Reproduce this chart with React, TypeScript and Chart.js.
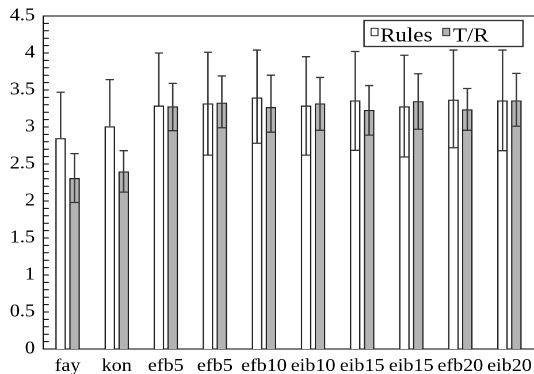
import React, { useEffect, useRef } from 'react';
import { Chart, registerables } from 'chart.js';

Chart.register(...registerables);

// ---- data ----
const categories = ['fay', 'kon', 'efb5', 'efb5', 'efb10', 'eib10', 'eib15', 'eib15', 'efb20', 'eib20'];
const seriesNames = ['Rules', 'T/R'];
const rulesValues = [2.85, 3.01, 3.29, 3.32, 3.40, 3.29, 3.36, 3.28, 3.37, 3.36];
const rulesErrUp = [0.62, 0.63, 0.71, 0.69, 0.64, 0.66, 0.66, 0.69, 0.67, 0.68];
const rulesErrDown = [0, 0, 0, 0.70, 0.62, 0.67, 0.675, 0.685, 0.65, 0.68];
const trValues = [2.31, 2.40, 3.28, 3.33, 3.27, 3.32, 3.23, 3.35, 3.24, 3.36];
const trErrUp = [0.33, 0.28, 0.31, 0.36, 0.43, 0.35, 0.33, 0.37, 0.28, 0.365];
const trErrDown = [0.33, 0.28, 0.33, 0.34, 0.34, 0.365, 0.34, 0.38, 0.285, 0.35];
const yTickLabels = ['0', '0.5', '1', '1.5', '2', '2.5', '3', '3.5', '4', '4.5'];
const yMin = 0;
const yMax = 4.5;
const yStep = 0.5;
const yMinorStep = 0.1;

// ---- style ----
const STRETCH = 534 / 464;
const FONT = 'Liberation Serif';
const EDGE = '#222';
const GRAY = '#b3b3b3';

Chart.defaults.font.family = FONT;

const errors = [
  { up: rulesErrUp, down: rulesErrDown },
  { up: trErrUp, down: trErrDown },
];

const extrasPlugin = {
  id: 'extras',
  afterDatasetsDraw(chart: any) {
    const ctx = chart.ctx;
    const y = chart.scales.y;
    const area = chart.chartArea;
    ctx.save();
    // error bars
    ctx.strokeStyle = '#383838';
    ctx.lineWidth = 1.3;
    chart.data.datasets.forEach((ds: any, di: number) => {
      const meta = chart.getDatasetMeta(di);
      meta.data.forEach((bar: any, i: number) => {
        const v = ds.data[i];
        const up = errors[di].up[i];
        const down = errors[di].down[i];
        const x = bar.x;
        const yTop = y.getPixelForValue(v + up);
        const yBot = y.getPixelForValue(v - down);
        const cap = 3.6;
        ctx.beginPath();
        ctx.moveTo(x, yTop);
        ctx.lineTo(x, yBot);
        ctx.moveTo(x - cap, yTop);
        ctx.lineTo(x + cap, yTop);
        if (down > 0) {
          ctx.moveTo(x - cap, yBot);
          ctx.lineTo(x + cap, yBot);
        }
        ctx.stroke();
      });
    });
    // top frame line
    ctx.strokeStyle = '#000';
    ctx.lineWidth = 1;
    ctx.beginPath();
    ctx.moveTo(area.left, area.top);
    ctx.lineTo(area.right, area.top);
    ctx.stroke();
    // minor ticks inside
    const n = Math.round((yMax - yMin) / yMinorStep);
    ctx.beginPath();
    for (let k = 0; k <= n; k++) {
      const py = y.getPixelForValue(yMin + k * yMinorStep);
      ctx.moveTo(area.left, py);
      ctx.lineTo(area.left + 5, py);
    }
    ctx.stroke();
    // legend
    const bx = 316.3, by = 20.5, bw = 138.1, bh = 26;
    ctx.fillStyle = '#fff';
    ctx.fillRect(bx, by, bw, bh);
    ctx.strokeStyle = '#333';
    ctx.lineWidth = 1.3;
    ctx.strokeRect(bx, by, bw, bh);
    ctx.font = `20px "${FONT}"`;
    ctx.textBaseline = 'alphabetic';
    ctx.textAlign = 'left';
    const items = [
      { sx: 322.4, tx: 330.2 },
      { sx: 384.7, tx: 393.5 },
    ];
    chart.data.datasets.forEach((ds: any, di: number) => {
      const it = items[di];
      ctx.fillStyle = ds.backgroundColor;
      ctx.fillRect(it.sx, 28.3, 6, 7.4);
      ctx.strokeStyle = EDGE;
      ctx.lineWidth = 0.9;
      ctx.strokeRect(it.sx, 28.3, 6, 7.4);
      ctx.fillStyle = '#000';
      ctx.fillText(ds.label, it.tx, 41.7);
    });
    ctx.restore();
  },
};

export default function App() {
  const ref = useRef<HTMLCanvasElement>(null);
  useEffect(() => {
    document.body.style.margin = '0';
    document.body.style.overflow = 'hidden';
    const tickFont = { family: `"${FONT}"`, size: 17.5 };
    const chart = new Chart(ref.current as HTMLCanvasElement, {
      type: 'bar',
      data: {
        labels: categories,
        datasets: [
          {
            label: seriesNames[0],
            data: rulesValues,
            backgroundColor: '#ffffff',
            borderColor: EDGE,
            borderWidth: 1.3,
            categoryPercentage: 0.566,
            barPercentage: 0.77,
          },
          {
            label: seriesNames[1],
            data: trValues,
            backgroundColor: GRAY,
            borderColor: EDGE,
            borderWidth: 1.3,
            categoryPercentage: 0.566,
            barPercentage: 0.77,
          },
        ],
      },
      options: {
        responsive: false,
        devicePixelRatio: 2,
        animation: false,
        font: tickFont,
        layout: { padding: { top: 16, right: 0, left: 0, bottom: 0 } },
        plugins: {
          legend: { display: false },
          tooltip: { enabled: false },
        },
        scales: {
          x: {
            grid: { display: false, drawTicks: false },
            border: { display: true, color: '#000', width: 1 },
            ticks: {
              color: '#000',
              font: tickFont,
              padding: 7,
              maxRotation: 0,
              autoSkip: false,
            },
            afterFit: (s: any) => {
              s.height = 25;
              s.paddingLeft = 0;
              s.paddingRight = 0;
            },
          },
          y: {
            min: yMin,
            max: yMax,
            grid: { display: false, drawTicks: false },
            border: { display: true, color: '#000', width: 1 },
            ticks: {
              stepSize: yStep,
              color: '#000',
              font: tickFont,
              padding: 7,
              callback: (_v: any, i: number) => yTickLabels[i],
            },
            afterFit: (s: any) => {
              s.width = 37.4;
              s.paddingTop = 0;
              s.paddingBottom = 0;
            },
          },
        },
      } as any,
      plugins: [extrasPlugin],
    });
    return () => chart.destroy();
  }, []);
  return (
    <div
      style={{
        width: 464,
        height: 374,
        transform: `scaleX(${STRETCH})`,
        transformOrigin: '0 0',
      }}
    >
      <canvas ref={ref} width={464} height={374} style={{ width: '464px', height: '374px' }} />
    </div>
  );
}
